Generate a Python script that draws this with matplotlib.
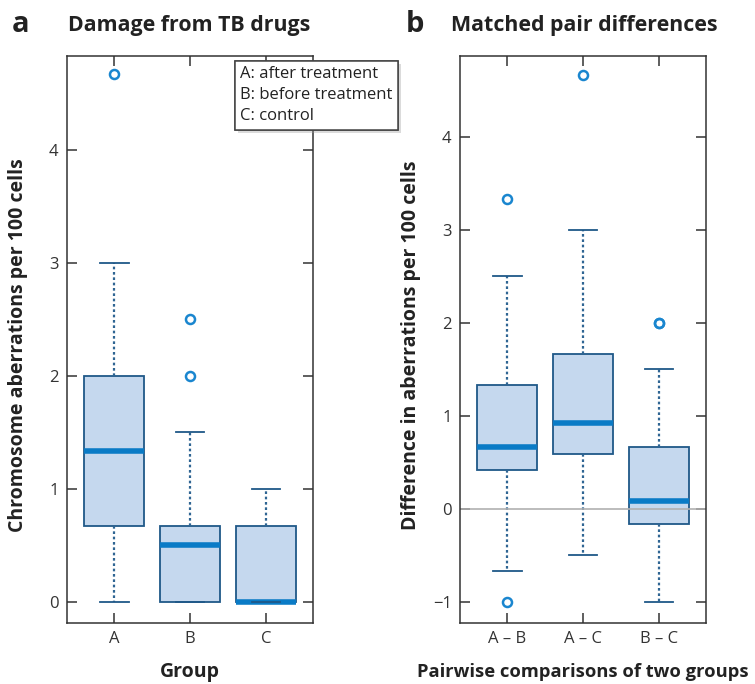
import matplotlib
matplotlib.use("Agg")
import matplotlib.pyplot as plt
import matplotlib.patheffects as pe

plt.rcParams['font.family'] = ['Open Sans', 'DejaVu Sans']

# ---- data ----
a_labels = ['A', 'B', 'C']
a_whislo = [0.0, 0.0, 0.0]
a_q1 = [0.667, 0.0, 0.0]
a_med = [1.333, 0.5, 0.0]
a_q3 = [2.0, 0.667, 0.667]
a_whishi = [3.0, 1.5, 1.0]
a_fliers = [[4.667], [2.0, 2.5], []]

b_labels = ['A – B', 'A – C', 'B – C']
b_whislo = [-0.667, -0.5, -1.0]
b_q1 = [0.417, 0.583, -0.167]
b_med = [0.667, 0.917, 0.083]
b_q3 = [1.333, 1.667, 0.667]
b_whishi = [2.5, 3.0, 1.5]
b_fliers = [[3.333, -1.0], [4.667], [2.0, 2.0]]

legend_lines = ['A: after treatment', 'B: before treatment', 'C: control']

# ---- style ----
FILL = '#c5d8ee'
EDGE = '#1f5888'
MED = '#0a7bc6'
WHISK = '#2f6593'
FLIER = '#1a86cf'
SPINE = '#333333'
TXT = '#222222'

fig = plt.figure(figsize=(7.55, 6.84), dpi=100)
W, H = 755, 684


def make_ax(left_px):
    return fig.add_axes([left_px / W, 1 - 623 / H, 246 / W, 567 / H])


def stats(labels, lo, q1, med, q3, hi, fl):
    return [dict(label=l, whislo=a, q1=b, med=c, q3=d, whishi=e, fliers=f)
            for l, a, b, c, d, e, f in zip(labels, lo, q1, med, q3, hi, fl)]


def draw(ax, st):
    ax.bxp(st, positions=[1, 2, 3], widths=0.8, capwidths=0.38,
           patch_artist=True, showfliers=True,
           boxprops=dict(facecolor=FILL, edgecolor=EDGE, linewidth=1.3),
           medianprops=dict(color=MED, linewidth=4.0, solid_capstyle='butt'),
           whiskerprops=dict(color=WHISK, linewidth=1.6, linestyle=(0, (1.2, 1.2))),
           capprops=dict(color=EDGE, linewidth=1.3, zorder=4),
           flierprops=dict(marker='o', markerfacecolor='none',
                           markeredgecolor=FLIER, markersize=6.5,
                           markeredgewidth=1.8))
    ax.set_xlim(0.38, 3.62)
    for s in ax.spines.values():
        s.set_color(SPINE)
        s.set_linewidth(1.1)
    ax.tick_params(direction='in', length=7, width=1.1, color=SPINE,
                   top=True, right=True, labelsize=12, labelcolor='#333333',
                   pad=6)


def labels(ax, xl, yl, xsize=14):
    ax.set_ylabel(yl, fontsize=14, fontweight='bold', color=TXT)
    ax.yaxis.label.set_va('center')
    ax.yaxis.set_label_coords(-0.2, 0.49)
    ax.set_xlabel(xl, fontsize=xsize, fontweight='bold', color=TXT)
    ax.xaxis.label.set_va('center')
    ax.xaxis.set_label_coords(0.5, -0.086)


# panel a
ax1 = make_ax(67)
draw(ax1, stats(a_labels, a_whislo, a_q1, a_med, a_q3, a_whishi, a_fliers))
ax1.set_ylim(-0.19, 4.83)
ax1.set_yticks([0, 1, 2, 3, 4])
labels(ax1, 'Group', 'Chromosome aberrations per 100 cells')

# panel b
ax2 = make_ax(460)
ax2.axhline(0, color='#b0b0b0', linewidth=1.2, zorder=2.5)
draw(ax2, stats(b_labels, b_whislo, b_q1, b_med, b_q3, b_whishi, b_fliers))
ax2.set_ylim(-1.23, 4.87)
ax2.set_yticks([-1, 0, 1, 2, 3, 4])
labels(ax2, 'Pairwise comparisons of two groups',
       'Difference in aberrations per 100 cells', xsize=13.2)

# titles
fig.text(12 / W, 1 - 24 / H, 'a', fontsize=21, fontweight='bold',
         color=TXT, va='center', ha='left')
fig.text(68 / W, 1 - 25 / H, 'Damage from TB drugs', fontsize=15.4,
         fontweight='bold', color=TXT, va='center', ha='left')
fig.text(406 / W, 1 - 24 / H, 'b', fontsize=21, fontweight='bold',
         color=TXT, va='center', ha='left')
fig.text(451 / W, 1 - 25 / H, 'Matched pair differences', fontsize=15.4,
         fontweight='bold', color=TXT, va='center', ha='left')

# legend box
t = fig.text(240 / W, 1 - 66 / H, '\n'.join(legend_lines), fontsize=12,
             color=TXT, va='top', ha='left', linespacing=1.42,
             bbox=dict(boxstyle='square,pad=0.33', facecolor='white',
                       edgecolor='#444444', linewidth=1.1), zorder=10)
t.get_bbox_patch().set_path_effects(
    [pe.withSimplePatchShadow(offset=(2.5, -2.5), shadow_rgbFace='#999999', alpha=0.35),
     pe.Normal()])

fig.savefig('out.png', dpi=100)
